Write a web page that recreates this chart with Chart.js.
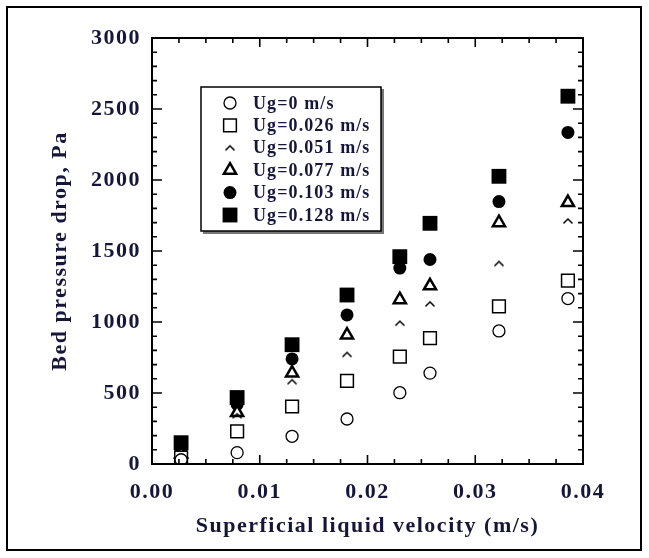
<!DOCTYPE html>
<html>
<head>
<meta charset="utf-8">
<script src="https://cdn.jsdelivr.net/npm/chart.js@4.4.0/dist/chart.umd.min.js"></script>
<style>
html, body { margin: 0; padding: 0; background: #fff; }
#wrap { width: 649px; height: 558px; }
</style>
</head>
<body>
<div id="wrap"><canvas id="dpChart"></canvas></div>
<script>
// superficial liquid velocity (m/s)
const velocity = [0.0027, 0.0079, 0.0130, 0.0181, 0.0230, 0.0258, 0.0322, 0.0386];
// gas velocity series names
const gasLabels = ['Ug=0 m/s', 'Ug=0.026 m/s', 'Ug=0.051 m/s', 'Ug=0.077 m/s', 'Ug=0.103 m/s', 'Ug=0.128 m/s'];
// bed pressure drop (Pa) for each gas velocity
const dpUg0   = [30, 80, 195, 317, 502, 640, 937, 1165];
const dpUg026 = [45, 230, 405, 585, 756, 887, 1110, 1291];
const dpUg051 = [55, 340, 580, 772, 992, 1128, 1412, 1712];
const dpUg077 = [70, 362, 640, 908, 1157, 1255, 1699, 1841];
const dpUg103 = [95, 420, 740, 1050, 1380, 1440, 1848, 2335];
const dpUg128 = [150, 468, 840, 1190, 1460, 1695, 2026, 2590];
// tick labels
const xTicks = [0, 0.01, 0.02, 0.03, 0.04];
const yTicks = [0, 500, 1000, 1500, 2000, 2500, 3000];
const xMinor = 0.0025, yMinor = 100;

const serif = "'Liberation Serif', 'Times New Roman', serif";
const inkColor = '#16163a';

// "^" marker
function makeCaret() {
    const c = document.createElement('canvas');
    c.width = 12; c.height = 8;
    const g = c.getContext('2d');
    g.strokeStyle = '#000';
    g.lineWidth = 1.5;
    g.beginPath();
    g.moveTo(1.5, 6.5); g.lineTo(6, 2); g.lineTo(10.5, 6.5);
    g.stroke();
    return c;
}
const caret = makeCaret();

function pts(arr) {
    return velocity.map((v, i) => ({ x: v, y: arr[i] }));
}

const seriesStyle = [
    { pointStyle: 'circle', pointRadius: 6, backgroundColor: '#fff', borderWidth: 1.3 },
    { pointStyle: 'rect', pointRadius: 9, backgroundColor: '#fff', borderWidth: 1.5 },
    { pointStyle: caret, pointRadius: 6, backgroundColor: '#fff', borderWidth: 0 },
    { pointStyle: 'triangle', pointRadius: 7, backgroundColor: '#fff', borderWidth: 2.5 },
    { pointStyle: 'circle', pointRadius: 6.5, backgroundColor: '#000', borderWidth: 0 },
    { pointStyle: 'rect', pointRadius: 10.5, backgroundColor: '#000', borderWidth: 0 }
];
const seriesData = [dpUg0, dpUg026, dpUg051, dpUg077, dpUg103, dpUg128];

const datasets = seriesData.map((arr, i) => Object.assign({
    label: gasLabels[i],
    data: pts(arr),
    borderColor: '#000',
    showLine: false,
    pointHoverRadius: seriesStyle[i].pointRadius
}, seriesStyle[i]));

// frame, inward ticks, spacing of text
const framePlugin = {
    id: 'framePlugin',
    beforeDraw(chart) {
        const ctx = chart.ctx;
        ctx.save();
        ctx.fillStyle = '#fff';
        ctx.fillRect(0, 0, chart.width, chart.height);
        ctx.strokeStyle = '#000';
        ctx.lineWidth = 2;
        ctx.strokeRect(7, 7, chart.width - 15, chart.height - 15);
        ctx.restore();
        ctx.letterSpacing = '1.5px';
    },
    afterDraw(chart) {
        const ctx = chart.ctx;
        const a = chart.chartArea;
        const xs = chart.scales.x, ys = chart.scales.y;
        ctx.save();
        ctx.letterSpacing = '0px';
        ctx.strokeStyle = '#000';
        ctx.lineWidth = 1.6;
        ctx.beginPath();
        for (let k = 0; k <= Math.round(xs.max / xMinor); k++) {
            const v = k * xMinor;
            const px = xs.getPixelForValue(v);
            const len = xTicks.some(t => Math.abs(t - v) < 1e-9) ? 9 : 5;
            ctx.moveTo(px, a.bottom); ctx.lineTo(px, a.bottom - len);
            ctx.moveTo(px, a.top); ctx.lineTo(px, a.top + len);
        }
        for (let k = 0; k <= Math.round(ys.max / yMinor); k++) {
            const v = k * yMinor;
            const py = ys.getPixelForValue(v);
            const len = yTicks.includes(v) ? 10 : 5;
            ctx.moveTo(a.left, py); ctx.lineTo(a.left + len, py);
            ctx.moveTo(a.right, py); ctx.lineTo(a.right - len, py);
        }
        ctx.stroke();
        ctx.lineWidth = 2;
        ctx.strokeRect(a.left, a.top, a.right - a.left, a.bottom - a.top);

        // legend box
        const bx = 201, by = 87, bw = 180, bh = 144;
        ctx.fillStyle = '#777';
        ctx.fillRect(bx + 2, by + 2, bw + 1, bh + 1);
        ctx.fillStyle = '#fff';
        ctx.fillRect(bx, by, bw, bh);
        ctx.lineWidth = 1.5;
        ctx.strokeStyle = '#000';
        ctx.strokeRect(bx, by, bw, bh);

        ctx.font = 'bold 18px ' + serif;
        ctx.letterSpacing = '1.1px';
        ctx.textBaseline = 'middle';
        ctx.textAlign = 'left';
        chart.data.datasets.forEach((ds, i) => {
            const y = 103 + i * 22.4;
            ctx.fillStyle = ds.backgroundColor;
            ctx.strokeStyle = ds.borderColor;
            ctx.lineWidth = ds.borderWidth;
            Chart.helpers.drawPoint(ctx, {
                pointStyle: ds.pointStyle,
                radius: ds.pointRadius,
                rotation: 0,
                borderWidth: ds.borderWidth
            }, 230, y);
            ctx.fillStyle = inkColor;
            ctx.fillText(ds.label, 253, y + 1);
        });
        ctx.restore();
        ctx.letterSpacing = '0px';
    }
};

const ctx = document.getElementById('dpChart').getContext('2d');

const dpChart = new Chart(ctx, {
    type: 'scatter',
    data: { datasets: datasets },
    options: {
        responsive: true,
        maintainAspectRatio: false,
        animation: false,
        layout: { padding: { left: 0, right: 66, top: 38, bottom: 0 } },
        scales: {
            x: {
                type: 'linear',
                min: 0,
                max: 0.04,
                afterBuildTicks: s => { s.ticks = xTicks.map(v => ({ value: v })); },
                afterFit: s => { s.height = 94; },
                grid: { display: false, drawTicks: false },
                border: { display: false },
                ticks: {
                    padding: 15,
                    color: inkColor,
                    font: { family: serif, size: 22, weight: 'bold' },
                    callback: v => v.toFixed(2),
                    maxRotation: 0
                },
                title: {
                    display: true,
                    text: 'Superficial liquid velocity (m/s)',
                    color: inkColor,
                    font: { family: serif, size: 22, weight: 'bold' },
                    padding: { top: 0, bottom: 18 }
                }
            },
            y: {
                type: 'linear',
                min: 0,
                max: 3000,
                afterBuildTicks: s => { s.ticks = yTicks.map(v => ({ value: v })); },
                afterFit: s => { s.width = 152; },
                grid: { display: false, drawTicks: false },
                border: { display: false },
                ticks: {
                    padding: 11,
                    color: inkColor,
                    font: { family: serif, size: 22, weight: 'bold' },
                    callback: v => String(v)
                },
                title: {
                    display: true,
                    text: 'Bed pressure drop, Pa',
                    color: inkColor,
                    font: { family: serif, size: 22, weight: 'bold' },
                    padding: { top: 47, bottom: 0 }
                }
            }
        },
        plugins: {
            legend: { display: false },
            tooltip: { enabled: false }
        }
    },
    plugins: [framePlugin]
});
</script>
</body>
</html>
